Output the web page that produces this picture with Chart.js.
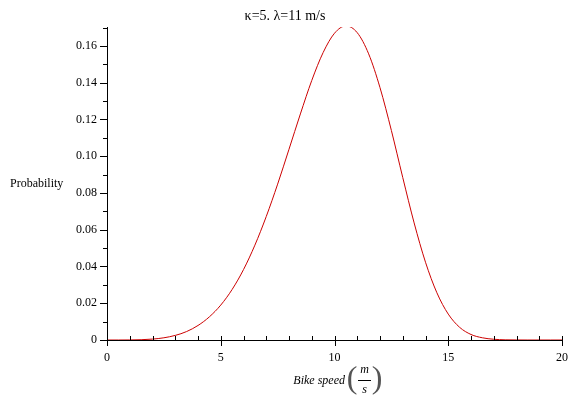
<!DOCTYPE html>
<html>
<head>
<meta charset="utf-8">
<script src="https://cdn.jsdelivr.net/npm/chart.js@4"></script>
<style>
  html, body { margin: 0; padding: 0; background: #fff; }
  #wrap { width: 574px; height: 400px; }
</style>
</head>
<body>
<div id="wrap"><canvas id="c" width="574" height="400"></canvas></div>
<script>
// ---- data ----
const speeds = [0, 0.5, 1, 1.5, 2, 2.5, 3, 3.5, 4, 4.5, 5, 5.5, 6, 6.5, 7, 7.5, 8, 8.5, 9, 9.5, 10,
                10.5, 11, 11.5, 12, 12.5, 13, 13.5, 14, 14.5, 15, 15.5, 16, 16.5, 17, 17.5, 18, 18.5, 19, 19.5, 20];
const probability = [0, 0, 0.00003, 0.00016, 0.0005, 0.0012, 0.0025, 0.0046, 0.0079, 0.0126, 0.0190, 0.0275,
                     0.0383, 0.0516, 0.0672, 0.0848, 0.1038, 0.1230, 0.1412, 0.1564, 0.1669,
                     0.1709, 0.1672, 0.1557, 0.1373, 0.1140, 0.0884, 0.0637, 0.0423, 0.0257, 0.0141,
                     0.0069, 0.0030, 0.0012, 0.0004, 0.0001, 0.00003, 0, 0, 0, 0];
const xTickLabels = [0, 5, 10, 15, 20];
const xMinorTicks = [1, 2, 3, 4, 6, 7, 8, 9, 11, 12, 13, 14, 16, 17, 18, 19];
const yTickLabels = [0, 0.02, 0.04, 0.06, 0.08, 0.10, 0.12, 0.14, 0.16];
const yMinorTicks = [0.01, 0.03, 0.05, 0.07, 0.09, 0.11, 0.13, 0.15, 0.17];
const titleText = "κ=5. λ=11 m/s";
const yTitle = "Probability";
const xTitle = "Bike speed";
const xUnitTop = "m";
const xUnitBottom = "s";

const FONT = "'Liberation Serif', 'Times New Roman', serif";

const decorPlugin = {
  id: 'decor',
  afterDraw(chart) {
    const ctx = chart.ctx;
    const xs = chart.scales.x, ys = chart.scales.y;
    const x0 = xs.getPixelForValue(0);
    const y0 = ys.getPixelForValue(0);
    ctx.save();
    ctx.strokeStyle = '#000';
    ctx.lineWidth = 1;
    ctx.beginPath();
    xTickLabels.forEach(v => {
      const p = Math.round(xs.getPixelForValue(v)) + 0.5;
      ctx.moveTo(p, y0 - 4); ctx.lineTo(p, y0 + 6);
    });
    xMinorTicks.forEach(v => {
      const p = Math.round(xs.getPixelForValue(v)) + 0.5;
      ctx.moveTo(p, y0 - 4); ctx.lineTo(p, y0);
    });
    yTickLabels.forEach(v => {
      const p = Math.round(ys.getPixelForValue(v)) + 0.5;
      ctx.moveTo(x0 - 7, p); ctx.lineTo(x0, p);
    });
    yMinorTicks.forEach(v => {
      const p = Math.round(ys.getPixelForValue(v)) + 0.5;
      ctx.moveTo(x0 - 4, p); ctx.lineTo(x0, p);
    });
    ctx.stroke();

    ctx.fillStyle = '#000';
    ctx.font = '14px ' + FONT;
    ctx.textAlign = 'center';
    ctx.textBaseline = 'alphabetic';
    ctx.fillText(titleText, 285, 20);

    ctx.font = '12px ' + FONT;
    ctx.textAlign = 'left';
    ctx.textBaseline = 'middle';
    ctx.fillText(yTitle, 10, 184);

    ctx.font = 'italic 12px ' + FONT;
    ctx.textAlign = 'right';
    ctx.textBaseline = 'middle';
    ctx.fillText(xTitle, 345, 381);
    ctx.save();
    ctx.fillStyle = '#555';
    ctx.font = '32px ' + FONT;
    ctx.textAlign = 'center';
    ctx.textBaseline = 'middle';
    ctx.fillText('(', 352, 380);
    ctx.fillText(')', 377, 380);
    ctx.restore();
    ctx.font = 'italic 12px ' + FONT;
    ctx.textAlign = 'center';
    ctx.textBaseline = 'middle';
    ctx.fillText(xUnitTop, 364.5, 370);
    ctx.fillText(xUnitBottom, 364.5, 390);
    ctx.beginPath();
    ctx.moveTo(358, 380.5); ctx.lineTo(371, 380.5);
    ctx.stroke();
    ctx.restore();
  }
};

new Chart(document.getElementById('c'), {
  type: 'line',
  data: {
    datasets: [{
      data: speeds.map((s, i) => ({ x: s, y: probability[i] })),
      borderColor: '#cc0000',
      borderWidth: 1,
      pointRadius: 0,
      fill: false,
      cubicInterpolationMode: 'monotone'
    }]
  },
  options: {
    responsive: false,
    animation: false,
    devicePixelRatio: 1,
    layout: { padding: { top: 27, right: 12, bottom: 0, left: 0 } },
    plugins: { legend: { display: false }, tooltip: { enabled: false }, title: { display: false } },
    scales: {
      x: {
        type: 'linear',
        min: 0, max: 20,
        afterFit(s) { s.height = 60; s.paddingLeft = 0; s.paddingRight = 0; },
        afterBuildTicks(s) { s.ticks = xTickLabels.map(v => ({ value: v })); },
        grid: { display: false, drawTicks: false },
        border: { display: true, color: '#000', width: 1 },
        ticks: {
          padding: 11,
          color: '#000',
          font: { family: FONT, size: 12 },
          maxRotation: 0,
          callback: v => String(v)
        }
      },
      y: {
        type: 'linear',
        min: 0, max: 0.1703,
        afterFit(s) { s.width = 107; s.paddingTop = 0; s.paddingBottom = 0; },
        afterBuildTicks(s) { s.ticks = yTickLabels.map(v => ({ value: v })); },
        grid: { display: false, drawTicks: false },
        border: { display: true, color: '#000', width: 1 },
        ticks: {
          padding: 10,
          color: '#000',
          font: { family: FONT, size: 12 },
          callback: v => v === 0 ? '0' : v.toFixed(2)
        }
      }
    }
  },
  plugins: [decorPlugin]
});
</script>
</body>
</html>
